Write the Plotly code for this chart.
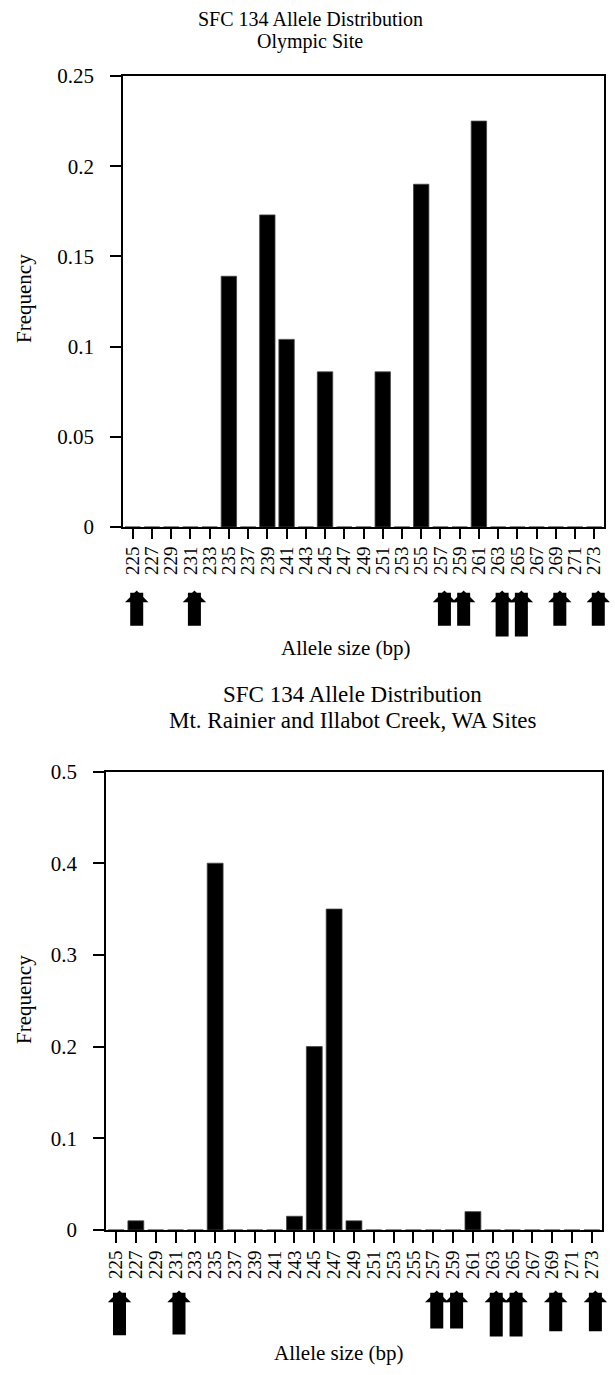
import plotly.graph_objects as go

# ---------------- data ----------------
alleles = ["225", "227", "229", "231", "233", "235", "237", "239", "241", "243",
           "245", "247", "249", "251", "253", "255", "257", "259", "261", "263",
           "265", "267", "269", "271", "273"]

olympic_freq = [0, 0, 0, 0, 0, 0.139, 0, 0.173, 0.104, 0,
                0.086, 0, 0, 0.086, 0, 0.190, 0, 0, 0.225, 0,
                0, 0, 0, 0, 0]

rainier_freq = [0, 0.010, 0, 0, 0, 0.400, 0, 0, 0, 0.015,
                0.200, 0.350, 0.010, 0, 0, 0, 0, 0, 0.020, 0,
                0, 0, 0, 0, 0]

arrow_alleles = ["225", "231", "257", "259", "263", "265", "269", "273"]

top_title = ["SFC 134 Allele Distribution", "Olympic Site"]
bottom_title = ["SFC 134 Allele Distribution", "Mt. Rainier and Illabot Creek, WA Sites"]
x_title = "Allele size (bp)"
y_title = "Frequency"

# ---------------- layout helpers ----------------
W, H = 615, 1375
FONT = "Liberation Serif"


def px(x):
    return x / W


def py(y):
    return 1 - y / H


fig = go.Figure()
fig.add_trace(go.Bar(x=alleles, y=olympic_freq, xaxis="x", yaxis="y",
                     marker=dict(color="black", line=dict(width=0.8, color="#444")),
                     showlegend=False))
fig.add_trace(go.Bar(x=alleles, y=rainier_freq, xaxis="x2", yaxis="y2",
                     marker=dict(color="black", line=dict(width=0.8, color="#444")),
                     showlegend=False))

common = dict(showline=True, mirror=True, linecolor="black", linewidth=2,
              ticks="outside", tickcolor="black", tickwidth=2,
              showgrid=False, zeroline=False, automargin=False)
xcommon = dict(type="category", categoryorder="array", categoryarray=alleles,
               range=[-0.5, len(alleles) - 0.5], tickmode="array",
               tickvals=alleles, ticktext=alleles, tickangle=-90)

fig.update_layout(
    width=W, height=H,
    margin=dict(l=0, r=0, t=0, b=0, pad=0, autoexpand=False),
    paper_bgcolor="white", plot_bgcolor="white",
    showlegend=False,
    bargap=0.2,
    font=dict(family=FONT, color="black"),
    xaxis=dict(domain=[px(123.1), px(603.9)], anchor="y", ticklen=10,
               tickfont=dict(family=FONT, size=19, color="black"), **xcommon, **common),
    yaxis=dict(domain=[py(527), py(76)], anchor="x", range=[0, 0.25], dtick=0.05, tick0=0,
               ticklen=11, ticklabelstandoff=12,
               tickfont=dict(family=FONT, size=21, color="black"), **common),
    xaxis2=dict(domain=[px(106.1), px(601.8)], anchor="y2", ticklen=11,
                tickfont=dict(family=FONT, size=19, color="black"), **xcommon, **common),
    yaxis2=dict(domain=[py(1230), py(771.5)], anchor="x2", range=[0, 0.5], dtick=0.1, tick0=0,
                ticklen=11, ticklabelstandoff=12,
                tickfont=dict(family=FONT, size=21, color="black"), **common),
)

anns = []


def text_ann(txt, x, y, size, angle=0):
    anns.append(dict(text=txt, x=px(x), y=py(y), xref="paper", yref="paper",
                     xanchor="center", yanchor="middle", showarrow=False, textangle=angle,
                     font=dict(family=FONT, size=size, color="black")))


# titles
text_ann(top_title[0], 310, 18.5, 20)
text_ann(top_title[1], 310, 41, 20)
text_ann(bottom_title[0], 352, 694.5, 23)
text_ann(bottom_title[1], 353, 720, 23)
# axis titles
text_ann(x_title, 345, 648, 21)
text_ann(x_title, 338, 1353, 21)
text_ann(y_title, 24, 299, 21, -90)
text_ann(y_title, 24, 1000, 21, -90)

# arrows marking alleles (style: tip/tail pixel rows)
arrow_style = {
    "x": dict(tip=588.3, tail={"263": 638, "265": 638}, tail_default=627.3, shift=4),
    "x2": dict(tip=1288.3, tail={"225": 1336.7, "231": 1336, "257": 1330, "259": 1330,
                                  "263": 1338, "265": 1338}, tail_default=1332.7, shift=3.5),
}
for xref, st in arrow_style.items():
    for a in arrow_alleles:
        point = st["tip"] + 2.2
        tail = st["tail"].get(a, st["tail_default"])
        anns.append(dict(text="", x=alleles.index(a), xref=xref, y=py(point), yref="paper",
                         showarrow=True, arrowhead=1, arrowsize=0.3, arrowwidth=13,
                         arrowcolor="black", ax=0, ay=tail - point, xshift=st["shift"],
                         standoff=0, startstandoff=0))

fig.update_layout(annotations=anns)
fig.write_html(
    "out.html",
    config={"displayModeBar": False},
    post_script=(
        "document.documentElement.style.margin='0';document.body.style.margin='0';"
        "document.documentElement.style.overflow='hidden';"
        "var gd=document.getElementById('{plot_id}');"
        "gd.style.position='absolute';gd.style.left='0px';gd.style.top='0px';"
    ),
)
